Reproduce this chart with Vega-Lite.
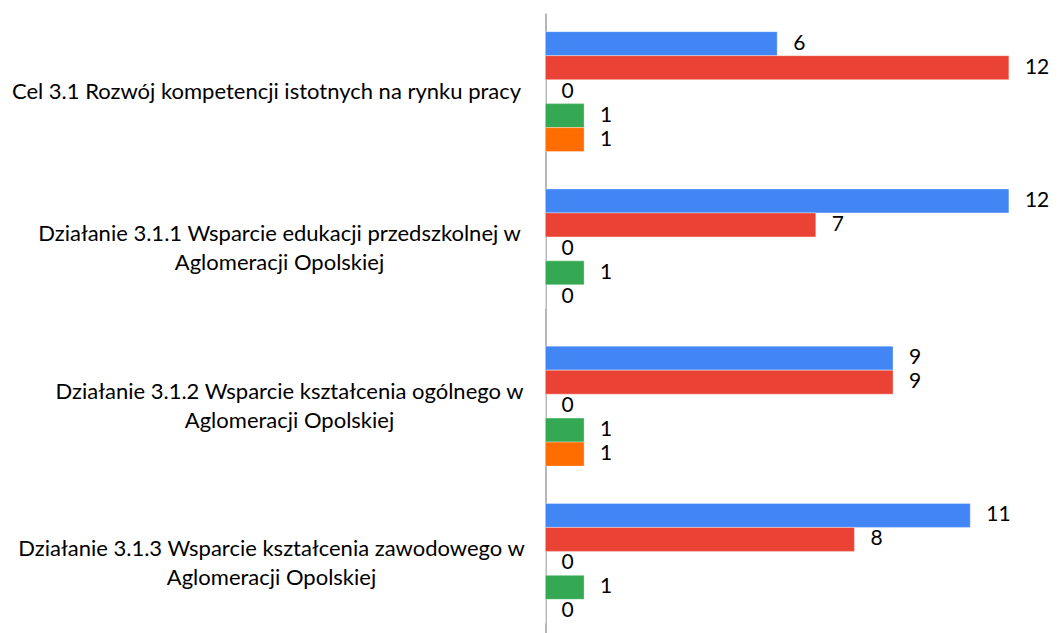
{
  "$schema": "https://vega.github.io/schema/vega-lite/v6.json",
  "autosize": {"type": "none"},
  "padding": {"left": 545.5, "top": 13, "right": 20, "bottom": 0},
  "width": 502,
  "height": 629,
  "background": "white",
  "config": {"view": {"stroke": null}, "font": "Lato"},
  "data": {"values": [
    {"cat": "Cel 3.1 Rozwój kompetencji istotnych na rynku pracy", "series": "Seria 1", "value": 6},
    {"cat": "Cel 3.1 Rozwój kompetencji istotnych na rynku pracy", "series": "Seria 2", "value": 12},
    {"cat": "Cel 3.1 Rozwój kompetencji istotnych na rynku pracy", "series": "Seria 3", "value": 0},
    {"cat": "Cel 3.1 Rozwój kompetencji istotnych na rynku pracy", "series": "Seria 4", "value": 1},
    {"cat": "Cel 3.1 Rozwój kompetencji istotnych na rynku pracy", "series": "Seria 5", "value": 1},
    {"cat": "Działanie 3.1.1 Wsparcie edukacji przedszkolnej w Aglomeracji Opolskiej", "series": "Seria 1", "value": 12},
    {"cat": "Działanie 3.1.1 Wsparcie edukacji przedszkolnej w Aglomeracji Opolskiej", "series": "Seria 2", "value": 7},
    {"cat": "Działanie 3.1.1 Wsparcie edukacji przedszkolnej w Aglomeracji Opolskiej", "series": "Seria 3", "value": 0},
    {"cat": "Działanie 3.1.1 Wsparcie edukacji przedszkolnej w Aglomeracji Opolskiej", "series": "Seria 4", "value": 1},
    {"cat": "Działanie 3.1.1 Wsparcie edukacji przedszkolnej w Aglomeracji Opolskiej", "series": "Seria 5", "value": 0},
    {"cat": "Działanie 3.1.2 Wsparcie kształcenia ogólnego w Aglomeracji Opolskiej", "series": "Seria 1", "value": 9},
    {"cat": "Działanie 3.1.2 Wsparcie kształcenia ogólnego w Aglomeracji Opolskiej", "series": "Seria 2", "value": 9},
    {"cat": "Działanie 3.1.2 Wsparcie kształcenia ogólnego w Aglomeracji Opolskiej", "series": "Seria 3", "value": 0},
    {"cat": "Działanie 3.1.2 Wsparcie kształcenia ogólnego w Aglomeracji Opolskiej", "series": "Seria 4", "value": 1},
    {"cat": "Działanie 3.1.2 Wsparcie kształcenia ogólnego w Aglomeracji Opolskiej", "series": "Seria 5", "value": 1},
    {"cat": "Działanie 3.1.3 Wsparcie kształcenia zawodowego w Aglomeracji Opolskiej", "series": "Seria 1", "value": 11},
    {"cat": "Działanie 3.1.3 Wsparcie kształcenia zawodowego w Aglomeracji Opolskiej", "series": "Seria 2", "value": 8},
    {"cat": "Działanie 3.1.3 Wsparcie kształcenia zawodowego w Aglomeracji Opolskiej", "series": "Seria 3", "value": 0},
    {"cat": "Działanie 3.1.3 Wsparcie kształcenia zawodowego w Aglomeracji Opolskiej", "series": "Seria 4", "value": 1},
    {"cat": "Działanie 3.1.3 Wsparcie kształcenia zawodowego w Aglomeracji Opolskiej", "series": "Seria 5", "value": 0}
  ]},
  "encoding": {
    "y": {
      "field": "cat", "type": "nominal", "sort": null, "title": null,
      "scale": {"paddingInner": 0.237, "paddingOuter": 0.1185},
      "axis": {
        "domain": true, "domainColor": "#9e9e9e", "domainWidth": 1.5,
        "ticks": false, "grid": false,
        "labelFont": "Lato", "labelFontSize": 22, "labelColor": "#000000",
        "labelLimit": 700, "labelAlign": "center", "labelBaseline": "middle",
        "labelLineHeight": 29,
        "labelExpr": "indexof(datum.label, ' Aglomeracji') > 0 ? [slice(datum.label, 0, indexof(datum.label, ' Aglomeracji')), 'Aglomeracji Opolskiej'] : datum.label",
        "labelOffset": {
          "condition": {"test": "indexof(datum.value, 'Aglomeracji') > 0", "value": -14.5},
          "value": 0
        },
        "labelPadding": {
          "condition": [
            {"test": "indexof(datum.value, '3.1.1') >= 0", "value": 266.5},
            {"test": "indexof(datum.value, '3.1.2') >= 0", "value": 256.5},
            {"test": "indexof(datum.value, '3.1.3') >= 0", "value": 274.5}
          ],
          "value": 279.5
        }
      }
    },
    "yOffset": {
      "field": "series", "type": "nominal",
      "sort": ["Seria 1", "Seria 2", "Seria 3", "Seria 4", "Seria 5"],
      "scale": {"paddingInner": 0, "paddingOuter": 0}
    },
    "x": {
      "field": "value", "type": "quantitative", "title": null,
      "scale": {"domain": [0, 13], "nice": false, "zero": true},
      "axis": null
    }
  },
  "layer": [
    {
      "mark": {"type": "bar", "stroke": "white", "strokeOpacity": 0.35, "strokeWidth": 1},
      "encoding": {
        "color": {
          "field": "series", "type": "nominal", "legend": null,
          "scale": {
            "domain": ["Seria 1", "Seria 2", "Seria 3", "Seria 4", "Seria 5"],
            "range": ["#4285F4", "#EA4335", "#FBBC04", "#34A853", "#FF6D01"]
          }
        }
      }
    },
    {
      "mark": {"type": "text", "align": "left", "baseline": "middle", "dx": 16, "fontSize": 21, "font": "Lato", "color": "#000000"},
      "encoding": {"text": {"field": "value", "type": "quantitative"}}
    }
  ]
}
